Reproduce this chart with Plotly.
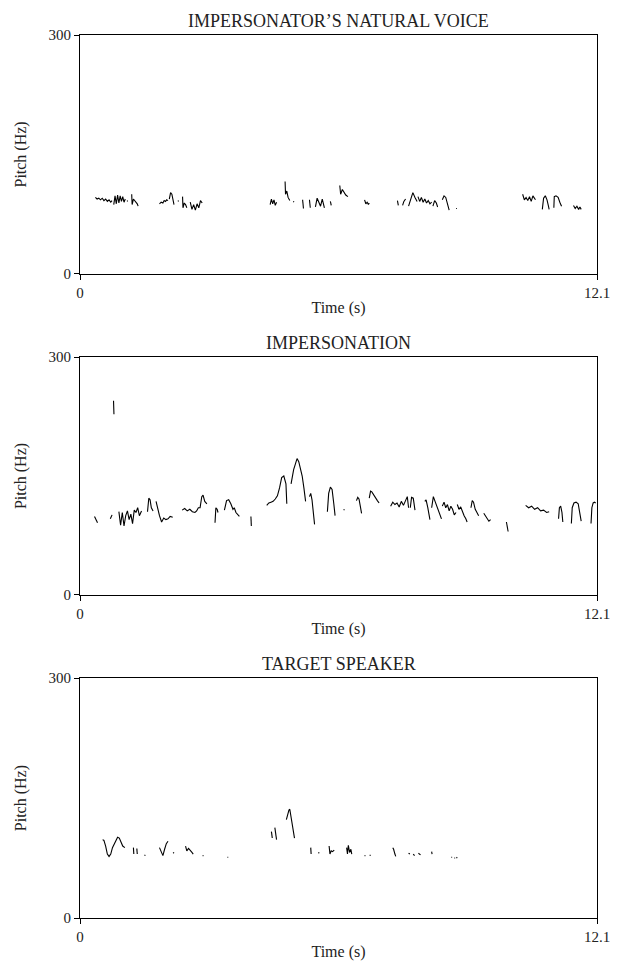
import plotly.graph_objects as go

# ---- data: pitch contours (time in s, pitch in Hz); None separates voiced segments ----
natural_t = [
    0.36, 0.40, 0.44, 0.48, 0.52, 0.56, 0.60, 0.64, 0.68, 0.72, 0.75, None,
    0.79, 0.82, 0.85, 0.88, 0.91, 0.94, 0.97, 1.00, 1.03, 1.06, None,
    1.10, 1.12, None,
    1.21, 1.22, 1.25, 1.28, 1.31, 1.34, 1.36, None,
    1.86, 1.90, 1.94, 1.97, 2.00, 2.03, 2.06, None,
    2.09, 2.12, 2.15, 2.18, 2.20, None,
    2.29, 2.31, None,
    2.40, 2.41, 2.44, 2.47, 2.50, None,
    2.58, 2.62, 2.66, 2.70, 2.74, 2.78, 2.82, 2.86, None,
    4.45, 4.48, 4.51, 4.54, 4.57, 4.60, None,
    4.80, 4.81, 4.84, 4.87, 4.91, None,
    4.99, 5.01, None,
    5.21, 5.22, 5.23, None,
    5.37, 5.39, None,
    5.51, 5.55, 5.59, 5.63, 5.67, 5.72, None,
    5.86, 5.88, None,
    6.08, 6.10, 6.14, 6.18, 6.22, 6.27, None,
    6.66, 6.69, 6.72, 6.75, 6.77, None,
    7.43, 7.45, None,
    7.55, 7.58, 7.62, None,
    7.69, 7.74, 7.79, 7.84, 7.89, None,
    7.91, 7.95, 7.99, 8.03, 8.07, 8.11, 8.15, 8.19, 8.23, None,
    8.26, 8.30, 8.34, 8.37, None,
    8.48, 8.52, 8.56, 8.60, 8.64, None,
    8.80, 8.82, None,
    10.36, 10.40, 10.44, 10.48, 10.52, 10.56, 10.60, 10.66, None,
    10.82, 10.85, 10.89, 10.93, 10.96, 10.98, None,
    11.09, 11.10, 11.14, 11.19, 11.23, 11.27, None,
    11.55, 11.59, 11.63, 11.67, 11.70, 11.73,
]
natural_hz = [
    96, 94, 95, 93, 95, 92, 94, 91, 93, 90, 92, None,
    87, 98, 88, 99, 89, 98, 91, 97, 90, 94, None,
    92, 91, None,
    100, 87, 94, 92, 90, 88, 85, None,
    88, 90, 89, 92, 91, 93, 92, None,
    94, 102, 100, 92, 87, None,
    92, 91, None,
    97, 83, 89, 87, 83, None,
    90, 81, 87, 80, 88, 83, 92, 89, None,
    87, 94, 88, 93, 86, 90, None,
    116, 100, 104, 96, 92, None,
    91, 90, None,
    93, 86, 82, None,
    93, 83, None,
    84, 95, 90, 85, 94, 83, None,
    91, 86, None,
    111, 100, 106, 102, 99, 97, None,
    93, 88, 90, 87, 89, None,
    92, 86, None,
    86, 91, 94, None,
    85, 95, 102, 96, 91, None,
    97, 91, 96, 90, 94, 89, 92, 88, 90, None,
    85, 92, 89, 84, None,
    93, 98, 96, 88, 80, None,
    82, 82, None,
    100, 93, 96, 92, 97, 91, 98, 93, None,
    81, 95, 98, 93, 86, 81, None,
    83, 97, 98, 96, 90, 85, None,
    86, 82, 85, 81, 84, 81,
]

imperson_t = [
    0.34, 0.37, 0.41, None,
    0.71, 0.75, None,
    0.785, 0.79, 0.795, None,
    0.91, 0.95, 0.99, 1.03, 1.07, 1.11, 1.15, 1.19, 1.23, 1.27, 1.31, 1.35, 1.39, 1.44, None,
    1.58, 1.61, 1.64, 1.67, 1.71, None,
    1.78, 1.81, 1.86, 1.91, 1.96, 2.01, 2.06, 2.11, 2.17, None,
    2.39, 2.45, 2.51, 2.57, 2.63, 2.69, 2.73, 2.77, 2.81, 2.85, 2.88, 2.92, 2.97, None,
    3.16, 3.18, 3.21, 3.23, None,
    3.38, 3.43, 3.48, 3.53, 3.58, 3.61, 3.65, 3.69, 3.73, None,
    4.00, 4.01, None,
    4.37, 4.42, 4.47, 4.52, 4.57, 4.62, 4.67, 4.72, 4.77, 4.80, 4.82, 4.84, None,
    4.94, 4.97, 5.00, 5.04, 5.08, 5.12, 5.16, 5.20, 5.24, 5.28, None,
    5.37, 5.40, 5.43, 5.46, 5.49, None,
    5.79, 5.82, 5.86, 5.90, 5.94, 5.97, None,
    6.17, 6.19, None,
    6.47, 6.50, 6.53, 6.56, 6.59, None,
    6.77, 6.80, 6.83, 6.87, 6.92, 6.96, 7.00, None,
    7.27, 7.32, 7.37, 7.42, 7.47, 7.52, 7.57, 7.62, 7.66, 7.69, None,
    7.73, 7.76, 7.80, 7.84, None,
    8.07, 8.10, 8.14, 8.19, None,
    8.23, 8.27, 8.31, 8.35, 8.39, 8.43, 8.46, None,
    8.48, 8.52, 8.56, 8.60, 8.64, 8.68, 8.72, 8.76, 8.80, None,
    8.83, 8.87, 8.91, 8.95, 8.99, 9.03, 9.06, None,
    9.15, 9.18, 9.21, 9.25, 9.29, 9.33, None,
    9.45, 9.49, 9.53, 9.57, 9.61, None,
    9.98, 10.00, 10.02, None,
    10.43, 10.50, 10.57, 10.64, 10.71, 10.78, 10.85, 10.92, 10.98, None,
    11.20, 11.22, 11.25, 11.28, 11.30, None,
    11.50, 11.52, 11.56, 11.61, 11.66, 11.70, 11.73, None,
    11.96, 11.98, 12.01, 12.04, 12.07,
]
imperson_hz = [
    99, 95, 91, None,
    96, 101, None,
    245, 236, 228, None,
    105, 88, 104, 87, 100, 106, 95, 102, 90, 107, 104, 110, 100, 106, None,
    105, 122, 120, 110, 106, None,
    118, 110, 100, 92, 97, 95, 96, 99, 98, None,
    107, 109, 106, 108, 105, 104, 106, 110, 110, 124, 126, 118, 115, None,
    91, 110, 108, 104, None,
    107, 119, 120, 115, 108, 110, 104, 101, 99, None,
    99, 87, None,
    113, 116, 117, 118, 121, 125, 135, 148, 150, 145, 140, 115, None,
    140, 150, 158, 165, 172, 168, 160, 150, 135, 118, None,
    124, 128, 120, 100, 89, None,
    105, 128, 136, 133, 115, 100, None,
    108, 107, None,
    119, 123, 121, 110, 103, None,
    122, 131, 130, 126, 122, 119, 116, None,
    112, 117, 114, 116, 111, 118, 113, 120, 124, 110, None,
    110, 123, 122, 107, None,
    118, 120, 110, 95, None,
    110, 124, 118, 112, 106, 100, 96, None,
    112, 117, 110, 114, 106, 112, 108, 101, 104, None,
    114, 108, 111, 104, 100, 96, 92, None,
    110, 119, 117, 108, 104, 100, None,
    103, 100, 97, 93, 95, None,
    92, 84, 80, None,
    113, 110, 112, 108, 110, 106, 107, 104, 105, None,
    96, 110, 112, 104, 92, None,
    90, 110, 116, 117, 115, 104, 93, None,
    90, 110, 116, 117, 116,
]

target_t = [
    0.53, 0.56, 0.60, 0.64, 0.68, 0.72, 0.76, 0.80, 0.84, 0.88, 0.92, 0.96, 1.00, 1.05, None,
    1.25, 1.26, None,
    1.33, 1.34, None,
    1.51, 1.53, None,
    1.86, 1.90, 1.94, 1.98, 2.02, 2.06, None,
    2.18, 2.20, None,
    2.47, 2.50, 2.54, 2.58, 2.62, 2.65, None,
    2.87, 2.89, None,
    3.45, 3.47, None,
    4.48, 4.50, None,
    4.56, 4.58, 4.60, None,
    4.83, 4.86, 4.89, 4.91, 4.94, 4.97, 5.00, 5.02, None,
    5.40, 5.41, None,
    5.58, 5.60, None,
    5.83, 5.85, 5.88, 5.91, 5.95, None,
    6.24, 6.26, 6.28, 6.31, 6.34, 6.36, None,
    6.66, 6.68, None,
    6.78, 6.80, None,
    7.32, 7.34, 7.37, 7.39, None,
    7.69, 7.72, None,
    7.80, 7.83, None,
    7.92, 7.97, None,
    8.23, 8.24, None,
    8.69, 8.71, None,
    8.76, 8.78, None,
    8.81, 8.83,
]
target_hz = [
    98, 97, 90, 80, 77, 80, 88, 92, 96, 101, 100, 94, 90, 88, None,
    88, 80, None,
    87, 80, None,
    79, 78, None,
    88, 82, 78, 86, 93, 96, None,
    82, 81, None,
    90, 84, 87, 85, 82, 80, None,
    78, 78, None,
    76, 76, None,
    108, 100, None,
    113, 105, 98, None,
    123, 130, 135, 136, 125, 115, 106, 100, None,
    88, 80, None,
    82, 81, None,
    90, 80, 84, 83, 85, None,
    88, 80, 91, 82, 86, 80, None,
    78, 78, None,
    79, 78, None,
    88, 86, 80, 77, None,
    81, 80, None,
    80, 78, None,
    81, 79, None,
    83, 80, None,
    76, 76, None,
    75, 75, None,
    76, 75,
]

panel_titles = ["IMPERSONATOR\u2019S NATURAL VOICE", "IMPERSONATION", "TARGET SPEAKER"]
x_ticks = [0, 12.1]
x_tick_text = ["0", "12.1"]
y_ticks = [0, 300]
y_tick_text = ["0", "300"]

series = [(natural_t, natural_hz), (imperson_t, imperson_hz), (target_t, target_hz)]

# ---- layout geometry (page body has an 8px margin) ----
BODY = 8
W, H = 630 - 2 * BODY, 977 - 2 * BODY
top_px, bot_px = 35 - BODY, 937 - BODY          # in figure coordinates
left_px, right_px = 77 - BODY, 606 - BODY
plot_h = bot_px - top_px
panels_px = [(35 - BODY, 279 - BODY), (364 - BODY, 607 - BODY), (692 - BODY, 937 - BODY)]
FONT = "Liberation Serif, Times New Roman, serif"
INK = "#222"

fig = go.Figure()
layout = dict(
    width=W, height=H,
    margin=dict(l=left_px, r=W - right_px, t=top_px, b=H - bot_px, pad=0),
    paper_bgcolor="white", plot_bgcolor="white",
    showlegend=False,
    font=dict(family=FONT, size=15, color=INK),
)

annotations = []
for i, ((tt, hh), title, (pt, pb)) in enumerate(zip(series, panel_titles, panels_px)):
    n = "" if i == 0 else str(i + 1)
    xa, ya = "x" + n, "y" + n
    fig.add_trace(go.Scatter(x=tt, y=hh, mode="lines", xaxis=xa, yaxis=ya,
                             line=dict(color="black", width=1.1),
                             connectgaps=False, hoverinfo="skip"))
    d0 = (bot_px - pb) / plot_h
    d1 = (bot_px - pt) / plot_h
    axis_common = dict(showline=True, linecolor="black", linewidth=1, mirror=True,
                       ticks="outside", ticklen=5, tickcolor="black", tickwidth=1,
                       showgrid=False, zeroline=False,
                       tickfont=dict(family=FONT, size=15, color=INK))
    layout["xaxis" + n] = dict(axis_common, domain=[0, 1], range=[0, 12.1],
                               tickvals=x_ticks, ticktext=x_tick_text,
                               anchor=ya,
                               title=dict(text="Time (s)", standoff=1,
                                          font=dict(family=FONT, size=16, color=INK)))
    layout["yaxis" + n] = dict(axis_common, domain=[d0, d1], range=[0, 300],
                               tickvals=y_ticks, ticktext=y_tick_text,
                               anchor=xa,
                               title=dict(text="Pitch (Hz)", standoff=17,
                                          font=dict(family=FONT, size=16, color=INK)))
    annotations.append(dict(text=title, xref="paper", yref="paper", x=0.5, y=d1,
                            xanchor="center", yanchor="bottom", yshift=2, showarrow=False,
                            font=dict(family=FONT, size=18, color=INK)))

layout["annotations"] = annotations
fig.update_layout(**layout)
fig.write_html("out.html")
